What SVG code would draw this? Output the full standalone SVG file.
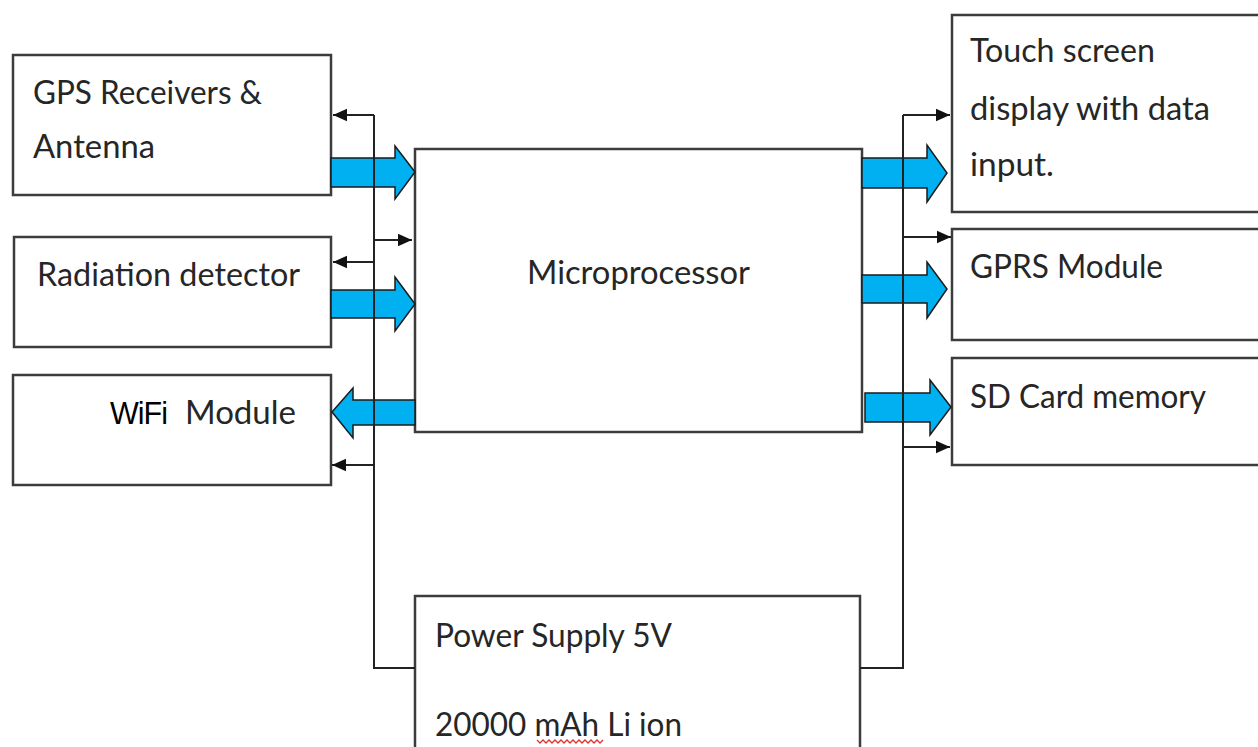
<svg xmlns="http://www.w3.org/2000/svg" width="1258" height="747" viewBox="0 0 1258 747">
<style>
.box{fill:#fff;stroke:#3c3c3c;stroke-width:2.5}
.t{font-family:Lato,"Open Sans","Liberation Sans",sans-serif;font-size:33px;fill:#262626}
.w{font-family:"Liberation Sans",Arial,sans-serif;font-size:31px;fill:#000;letter-spacing:-1px}
.line{fill:none;stroke:#222;stroke-width:2}
.fat{fill:#00B0F0;stroke:#1a1a1a;stroke-width:1.5;stroke-linejoin:miter}
</style>
<defs>
<marker id="ahs" viewBox="0 0 10 10" refX="10" refY="5" markerWidth="14" markerHeight="14" markerUnits="userSpaceOnUse" orient="auto">
<path d="M0,0.5 L10,5 L0,9.5 Z" fill="#111"/>
</marker>
</defs>
<rect width="1258" height="747" fill="#fff"/>

<g id="gps">
<rect class="box" x="13" y="55" width="318" height="140"/>
<text class="t" x="33" y="104" textLength="229" lengthAdjust="spacingAndGlyphs">GPS Receivers &amp;</text>
<text class="t" x="33" y="158" textLength="122" lengthAdjust="spacingAndGlyphs">Antenna</text>
</g>
<g id="radiation">
<rect class="box" x="14" y="237" width="317" height="110"/>
<text class="t" x="37" y="286" textLength="263" lengthAdjust="spacingAndGlyphs">Radiation detector</text>
</g>
<g id="wifi">
<rect class="box" x="13" y="375" width="318" height="110"/>
<text class="w" x="110" y="424" textLength="57" lengthAdjust="spacingAndGlyphs">WiFi</text>
<text class="t" x="185" y="424" textLength="111" lengthAdjust="spacingAndGlyphs">Module</text>
</g>
<g id="microprocessor">
<rect class="box" x="415" y="149" width="447" height="283"/>
<text class="t" x="527" y="284" textLength="223" lengthAdjust="spacingAndGlyphs">Microprocessor</text>
</g>
<g id="touch">
<rect class="box" x="952" y="15" width="320" height="197"/>
<text class="t" x="970" y="62" textLength="185" lengthAdjust="spacingAndGlyphs">Touch screen</text>
<text class="t" x="970" y="120" textLength="240" lengthAdjust="spacingAndGlyphs">display with data</text>
<text class="t" x="970" y="176" textLength="84" lengthAdjust="spacingAndGlyphs">input.</text>
</g>
<g id="gprs">
<rect class="box" x="952" y="229" width="320" height="111"/>
<text class="t" x="970" y="278" textLength="193" lengthAdjust="spacingAndGlyphs">GPRS Module</text>
</g>
<g id="sdcard">
<rect class="box" x="952" y="358" width="320" height="107"/>
<text class="t" x="970" y="408" textLength="236" lengthAdjust="spacingAndGlyphs">SD Card memory</text>
</g>
<g id="power">
<rect class="box" x="415" y="596" width="445" height="170"/>
<text class="t" x="435" y="647" textLength="237" lengthAdjust="spacingAndGlyphs">Power Supply 5V</text>
<text class="t" x="435" y="736" textLength="247" lengthAdjust="spacingAndGlyphs">20000 mAh Li ion</text>
<polyline points="537,740 540,743 543,740 546,743 549,740 552,743 555,740 558,743 561,740 564,743 567,740 570,743 573,740 576,743 579,740 582,743 585,740 588,743 591,740 594,743 597,740 600,743 603,740" fill="none" stroke="#e03030" stroke-width="1.3"/>
</g>

<g id="connectors">
<path class="line" d="M415,668 H374 V115"/>
<path class="line" d="M374,115 H333" marker-end="url(#ahs)"/>
<path class="line" d="M374,240 H412" marker-end="url(#ahs)"/>
<path class="line" d="M374,262 H333" marker-end="url(#ahs)"/>
<path class="line" d="M374,465 H332" marker-end="url(#ahs)"/>
<path class="line" d="M860,668 H903 V115"/>
<path class="line" d="M903,115 H950" marker-end="url(#ahs)"/>
<path class="line" d="M903,237 H951" marker-end="url(#ahs)"/>
<path class="line" d="M903,447 H950" marker-end="url(#ahs)"/>
<path class="fat" d="M331,158 H395 V146 L415,172 L395,199 V187 H331 Z"/>
<path class="fat" d="M331,290 H395 V277 L415,304 L395,331 V318 H331 Z"/>
<path class="fat" d="M415,400 H353 V388 L332,412 L353,438 V425 H415 Z"/>
<path class="fat" d="M862,158 H927 V145 L947,173 L927,202 V188 H862 Z"/>
<path class="fat" d="M862,275 H927 V262 L947,289 L927,318 V303 H862 Z"/>
<path class="fat" d="M865,393 H930 V380 L951,407 L930,435 V422 H865 Z"/>
<path class="line" d="M374,150 V200 M374,285 V335 M374,395 V430"/>
<path class="line" d="M903,140 V205 M903,258 V322 M903,375 V440"/>
</g>
</svg>
